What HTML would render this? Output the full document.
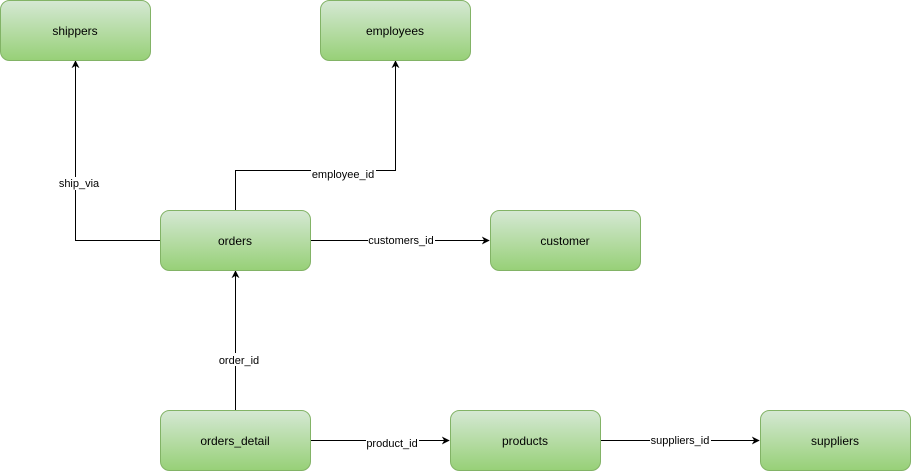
<!DOCTYPE html>
<html><head><meta charset="utf-8"><style>
html,body{margin:0;padding:0;background:#fff;}
svg{display:block;font-family:"Liberation Sans",sans-serif;}
</style></head><body>
<svg width="911" height="472" viewBox="0 0 911 472" xmlns="http://www.w3.org/2000/svg">
<defs>
<linearGradient id="g" x1="0" y1="0" x2="0" y2="1">
<stop offset="0" stop-color="#d5e8d4"/><stop offset="1" stop-color="#97d077"/>
</linearGradient>
<marker id="a" viewBox="0 0 10 10" refX="9" refY="5" markerWidth="8" markerHeight="8" orient="auto" markerUnits="userSpaceOnUse">
<path d="M0,0 L10,5 L0,10 L3,5 z" fill="#000"/>
</marker>
</defs>
<g fill="none" stroke="#000" stroke-width="1">
<path d="M160.5,240.5 H75.5 V61" marker-end="url(#a)"/>
<path d="M235.5,210 V170.5 H395.5 V61" marker-end="url(#a)"/>
<path d="M310,240.5 H489" marker-end="url(#a)"/>
<path d="M235.5,410 V271" marker-end="url(#a)"/>
<path d="M310,440.5 H449" marker-end="url(#a)"/>
<path d="M600,440.5 H759" marker-end="url(#a)"/>
</g>
<g fill="url(#g)" stroke="#82b366" stroke-width="1">
<rect x="0.5" y="0.5" width="150" height="60" rx="9"/>
<rect x="320.5" y="0.5" width="150" height="60" rx="9"/>
<rect x="160.5" y="210.5" width="150" height="60" rx="9"/>
<rect x="490.5" y="210.5" width="150" height="60" rx="9"/>
<rect x="160.5" y="410.5" width="150" height="60" rx="9"/>
<rect x="450.5" y="410.5" width="150" height="60" rx="9"/>
<rect x="760.5" y="410.5" width="150" height="60" rx="9"/>
</g>
<g font-size="12" text-anchor="middle" fill="#000">
<text x="75" y="35">shippers</text>
<text x="395" y="35">employees</text>
<text x="235" y="245">orders</text>
<text x="565" y="245">customer</text>
<text x="235" y="445">orders_detail</text>
<text x="525" y="445">products</text>
<text x="835" y="445">suppliers</text>
</g>
<g fill="#fff">
<rect x="57" y="177" width="44" height="13"/>
<rect x="311" y="167" width="65" height="13"/>
<rect x="368" y="234" width="67" height="13"/>
<rect x="218" y="353" width="43" height="13"/>
<rect x="366" y="436" width="53" height="13"/>
<rect x="650" y="433" width="61" height="13"/>
</g>
<g font-size="11" text-anchor="middle" fill="#000">
<text x="79" y="187">ship_via</text>
<text x="343" y="178">employee_id</text>
<text x="401" y="244">customers_id</text>
<text x="239" y="364">order_id</text>
<text x="392" y="447">product_id</text>
<text x="680" y="444">suppliers_id</text>
</g>
</svg>
</body></html>
